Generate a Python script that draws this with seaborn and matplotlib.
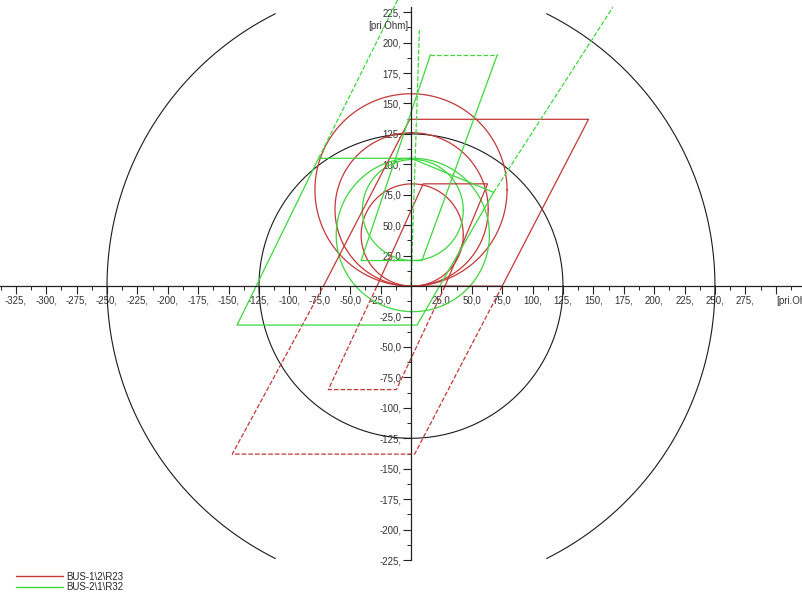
import matplotlib
matplotlib.use("Agg")
import matplotlib.pyplot as plt
import numpy as np
import pandas as pd
import seaborn as sns

# ---- data (values in pri.Ohm) ----
RED = "#c43838"
GREEN = "#3cd83c"

# mho circles: centre x, centre y, radius
red_circle_cx = [0.0, 0.5, 1.0]
red_circle_cy = [79.0, 63.0, 42.0]
red_circle_r = [79.0, 63.0, 42.0]

green_circle_cx = [1.5, 1.5]
green_circle_cy = [42.0, 62.5]
green_circle_r = [63.0, 41.5]

# black reference circles
ref_circle_r = [125.0, 250.0]

# red polygons (solid = forward, dashed = reverse)
red_z2_fwd_x = [-72, -1, 146, 75, 0]
red_z2_fwd_y = [0, 137, 137, 0, 0]
red_z2_rev_x = [75, 3, -147, -72]
red_z2_rev_y = [0, -138, -138, 0]
red_z1_fwd_x = [-28, 10, 63, 28]
red_z1_fwd_y = [0, 84, 84, 0]
red_z1_rev_x = [28, -12, -68, -28]
red_z1_rev_y = [0, -85, -85, 0]

# green zone polygon with tilted reactance line
green_z2_x = [68, 5, -143, -76, 0, 68]
green_z2_y = [77, -32, -32, 105, 105, 77]
# dashed extensions of its blinders
green_left_dash_x = [-76, -11]
green_left_dash_y = [105, 235]
green_right_dash_x = [68, 166]
green_right_dash_y = [77, 229]
# narrow upper polygon
green_z1_x = [9, -41, 16]
green_z1_y = [21, 21, 190]
green_z1_side_x = [9, 71]
green_z1_side_y = [21, 190]
green_top_dash_x = [16, 71]
green_top_dash_y = [190, 190]
green_vert_dash_x = [0, 7]
green_vert_dash_y = [0, 212]

legend_labels = ["BUS-1\\2\\R23", "BUS-2\\1\\R32"]

sns.set_theme(style="white")
plt.rcParams["font.family"] = ["Liberation Sans", "DejaVu Sans"]

fig = plt.figure(figsize=(8.03, 5.99), dpi=100)
ax = fig.add_axes([0, 0, 1, 1])
ax.set_xlim(-338, 322.4)
ax.set_ylim(-257, 235)


def line(xs, ys, color, ls="-", lw=0.9):
    df = pd.DataFrame({"x": xs, "y": ys})
    sns.lineplot(data=df, x="x", y="y", sort=False, estimator=None,
                 color=color, linestyle=ls, linewidth=lw, ax=ax)


def circle(cx, cy, r, color, lw=0.9, ymax=None):
    t = np.linspace(0, 2 * np.pi, 721)
    xs = cx + r * np.cos(t)
    ys = cy + r * np.sin(t)
    if ymax is not None:
        ys = np.where(np.abs(ys) <= ymax, ys, np.nan)
    ax.plot(xs, ys, color=color, lw=lw)


for r in ref_circle_r:
    circle(0, 0, r, "#1a1a1a", lw=0.8, ymax=224 if r > 200 else None)

for cx, cy, r in zip(red_circle_cx, red_circle_cy, red_circle_r):
    circle(cx, cy, r, RED)
for cx, cy, r in zip(green_circle_cx, green_circle_cy, green_circle_r):
    circle(cx, cy, r, GREEN)

line(red_z2_fwd_x, red_z2_fwd_y, RED)
line(red_z2_rev_x, red_z2_rev_y, RED, "--")
line(red_z1_fwd_x, red_z1_fwd_y, RED)
line(red_z1_rev_x, red_z1_rev_y, RED, "--")

line(green_z2_x, green_z2_y, GREEN)
line(green_left_dash_x, green_left_dash_y, GREEN, "--")
line(green_right_dash_x, green_right_dash_y, GREEN, "--")
line(green_z1_x, green_z1_y, GREEN)
line(green_z1_side_x, green_z1_side_y, GREEN)
line(green_top_dash_x, green_top_dash_y, GREEN, "--")
line(green_vert_dash_x, green_vert_dash_y, GREEN, "--")

# ---- axes through the origin ----
for s in ["top", "right"]:
    ax.spines[s].set_visible(False)
ax.spines["left"].set_position(("data", 0))
ax.spines["bottom"].set_position(("data", 0))
ax.spines["left"].set_bounds(-225, 229)
for s in ["left", "bottom"]:
    ax.spines[s].set_color("#222222")
    ax.spines[s].set_linewidth(0.9)
ax.set_xlabel("")
ax.set_ylabel("")


def fmt(v):
    if v == 0:
        return ""
    if abs(v) >= 100:
        return f"{int(v)},"
    return f"{v:.1f}".replace(".", ",")


xt = np.arange(-325, 301, 25)
ax.set_xticks(xt)
ax.set_xticklabels(["[pri.Ohm]" if v == 300 else fmt(v) for v in xt])
yt = np.arange(-225, 226, 25)
ax.set_yticks(yt)
ax.set_yticklabels([fmt(v) for v in yt])
ax.set_xticks(np.arange(-337.5, 322, 12.5), minor=True)
ax.set_yticks(np.arange(-225, 226, 12.5), minor=True)
ax.tick_params(axis="both", which="major", direction="out", length=6,
               width=0.8, color="#222222", labelsize=7, labelcolor="#333333", pad=1)
ax.tick_params(axis="both", which="minor", direction="out", length=3,
               width=0.7, color="#222222")
ax.tick_params(axis="x", which="both", bottom=True)
ax.tick_params(axis="y", which="both", left=True)
for v, lab in zip(xt, ax.get_xticklabels()):
    lab.set_horizontalalignment("left" if v == 300 else "center")

ax.text(-2, 218, "[pri.Ohm]", fontsize=7, color="#333333", ha="right", va="top")

# ---- legend ----
handles = [plt.Line2D([], [], color=RED, lw=1.0),
           plt.Line2D([], [], color=GREEN, lw=1.0)]
fig.legend(handles, legend_labels, loc="lower left", bbox_to_anchor=(0.012, 0.0),
           frameon=False, fontsize=7, handlelength=4.8, labelspacing=0.05,
           handletextpad=0.35, borderaxespad=0.3)

fig.savefig("out.png", dpi=100)
